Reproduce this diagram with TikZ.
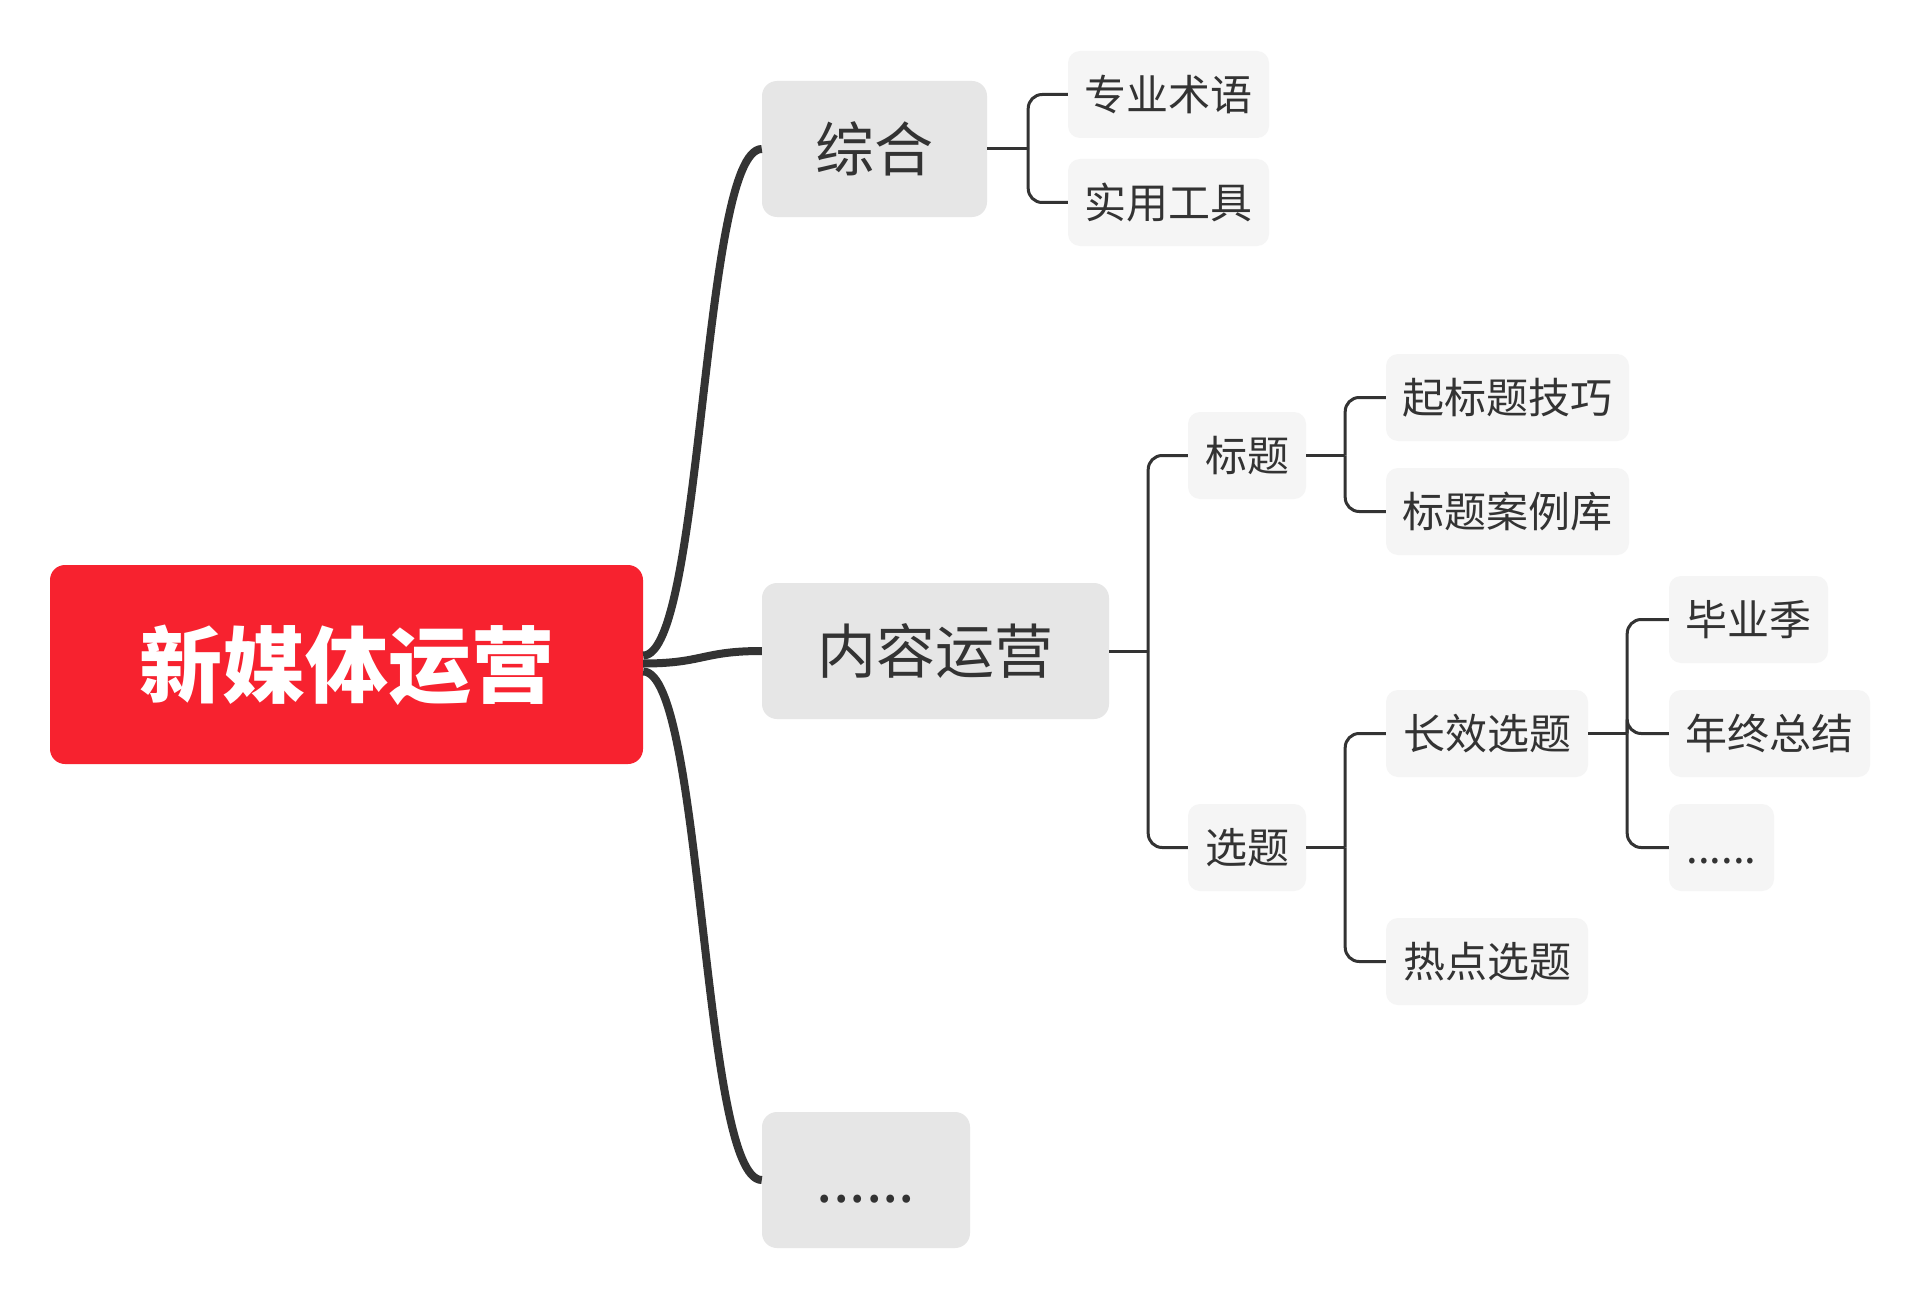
\documentclass[tikz,border=0pt]{standalone}
\usepackage{fontspec}
\newfontfamily\cjk{Noto Sans CJK SC}
\definecolor{rootred}{HTML}{F7222F}
\definecolor{maingray}{HTML}{E6E6E6}
\definecolor{leafgray}{HTML}{F5F5F5}
\definecolor{txt}{HTML}{333333}
\begin{document}
\begin{tikzpicture}[x=1pt,y=-1pt,
  box/.style={rounded corners=15pt, inner sep=0pt, align=center},
  rootbox/.style={box, fill=rootred, text=white, minimum width=593pt, minimum height=199pt, text height=69pt, text depth=6pt, font=\cjk\bfseries\fontsize{83}{83}\selectfont},
  mainbox/.style={box, fill=maingray, text=txt, minimum height=136pt, text height=49pt, text depth=4pt, font=\cjk\fontsize{59}{59}\selectfont},
  leafbox/.style={box, rounded corners=12pt, fill=leafgray, text=txt, minimum height=87pt, text height=35pt, text depth=3pt, font=\cjk\fontsize{42}{42}\selectfont},
  thickline/.style={draw=txt, line width=8pt},
  thinline/.style={draw=txt, line width=3pt, rounded corners=14pt}
]
\useasboundingbox[fill=white] (0,0) rectangle (1921,1300);

% nodes
\node[rootbox] (root) at (346.5,664.5) {新媒体运营};
\node[mainbox, minimum width=225pt] (zonghe) at (874.5,149) {综合};
\node[mainbox, minimum width=347pt] (nryy) at (935.5,651) {内容运营};
\node[mainbox, minimum width=208pt] (mdots) at (866,1180) {......};

\node[leafbox, minimum width=201pt] (zy) at (1168.5,94.5) {专业术语};
\node[leafbox, minimum width=201pt] (sy) at (1168.5,202.5) {实用工具};

\node[leafbox, minimum width=118pt] (bt) at (1247,455.5) {标题};
\node[leafbox, minimum width=118pt] (xt) at (1247,847.5) {选题};

\node[leafbox, minimum width=243pt] (qbt) at (1507.5,397.5) {起标题技巧};
\node[leafbox, minimum width=243pt] (btal) at (1507.5,511.5) {标题案例库};

\node[leafbox, minimum width=202pt] (cx) at (1487,733.5) {长效选题};
\node[leafbox, minimum width=202pt] (rd) at (1487,961.5) {热点选题};

\node[leafbox, minimum width=159pt] (byj) at (1748.5,619.5) {毕业季};
\node[leafbox, minimum width=201pt] (nz) at (1769.5,733.5) {年终总结};
\node[leafbox, minimum width=105pt] (ld) at (1721.5,847.5) {......};

% thick connectors
\draw[thickline] ([yshift=9pt]root.east) .. controls +(60,0) and +(-60,0) .. (zonghe.west);
\draw[thickline] ([yshift=1pt]root.east) .. controls +(60,0) and +(-60,0) .. (nryy.west);
\draw[thickline] ([yshift=-7pt]root.east) .. controls +(60,0) and +(-60,0) .. (mdots.west);

% junctions
\coordinate (j1) at ([xshift=41pt]zonghe.east);
\coordinate (j2) at ([xshift=39pt]nryy.east);
\coordinate (j3) at ([xshift=39pt]bt.east);
\coordinate (j4) at ([xshift=39pt]xt.east);
\coordinate (j5) at ([xshift=39pt]cx.east);

% thin connectors
\draw[thinline] (zonghe.east) -- (j1);
\draw[thinline] (j1) |- (zy.west);
\draw[thinline] (j1) |- (sy.west);

\draw[thinline] (nryy.east) -- (j2);
\draw[thinline] (j2) |- (bt.west);
\draw[thinline] (j2) |- (xt.west);

\draw[thinline] (bt.east) -- (j3);
\draw[thinline] (j3) |- (qbt.west);
\draw[thinline] (j3) |- (btal.west);

\draw[thinline] (xt.east) -- (j4);
\draw[thinline] (j4) |- (cx.west);
\draw[thinline] (j4) |- (rd.west);

\draw[thinline] (cx.east) -- (j5);
\draw[thinline] (j5) |- (byj.west);
\draw[thinline] (j5) |- (nz.west);
\draw[thinline] (j5) |- (ld.west);
\end{tikzpicture}
\end{document}
